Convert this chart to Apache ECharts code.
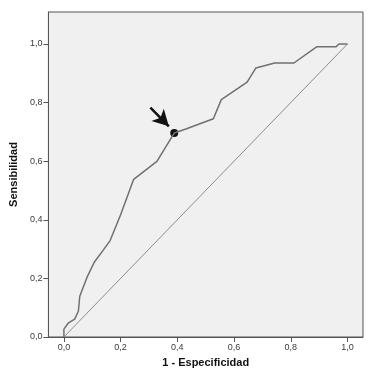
<!DOCTYPE html>
<html>
<head>
<meta charset="utf-8">
<script src="https://cdn.jsdelivr.net/npm/echarts@6/dist/echarts.min.js"></script>
<style>
html,body{margin:0;padding:0;background:#fff;}
#chart{width:375px;height:374px;}
</style>
</head>
<body>
<div id="chart"></div>
<script>
// ROC curve points: [1 - Especificidad, Sensibilidad]
const rocX = [0, 0, 0.015, 0.038, 0.051, 0.056, 0.083, 0.107, 0.140, 0.163, 0.200, 0.246, 0.328, 0.389, 0.430, 0.527, 0.555, 0.646, 0.677, 0.743, 0.811, 0.891, 0.959, 0.970, 0.996, 1.0];
const rocY = [0, 0.027, 0.047, 0.061, 0.088, 0.139, 0.207, 0.255, 0.298, 0.329, 0.417, 0.538, 0.599, 0.696, 0.710, 0.745, 0.810, 0.870, 0.918, 0.935, 0.935, 0.990, 0.990, 1.0, 1.0, 1.0];
const refX = [0, 1];
const refY = [0, 1];
const cutX = [0.389];
const cutY = [0.696];
const arrowFrom = [0.305, 0.783];
const arrowTo = [0.370, 0.719];
const tickValues = [0, 0.2, 0.4, 0.6, 0.8, 1.0];

const fmt = v => v.toFixed(1).replace('.', ',');
const rocData = rocX.map((x, i) => [x, rocY[i]]);
const refData = refX.map((x, i) => [x, refY[i]]);
const cutData = cutX.map((x, i) => [x, cutY[i]]);

const chart = echarts.init(document.getElementById('chart'), null, {renderer: 'canvas'});
const axisCommon = {
  type: 'value',
  splitLine: {show: false},
  axisLine: {show: true, onZero: false, lineStyle: {color: '#555', width: 1}},
  axisTick: {show: true, inside: false, length: 5, lineStyle: {color: '#555'}, customValues: tickValues},
  axisLabel: {color: '#3a3a3a', fontSize: 9, fontFamily: 'Liberation Sans, Arial, sans-serif', formatter: fmt, customValues: tickValues, margin: 6},
  nameTextStyle: {color: '#111', fontSize: 11, fontWeight: 'bold', fontFamily: 'Liberation Sans, Arial, sans-serif'},
  nameLocation: 'middle'
};
chart.setOption({
  animation: false,
  backgroundColor: '#fff',
  grid: {left: 38, top: 12, right: 12, bottom: 37, show: true, backgroundColor: '#f0f0f0', borderColor: '#555', borderWidth: 1},
  xAxis: Object.assign({}, axisCommon, {min: -0.0546, max: 1.0546, name: '1 - Especificidad', nameGap: 20}),
  yAxis: Object.assign({}, axisCommon, {min: 0, max: 1.109, name: 'Sensibilidad', nameGap: 25}),
  series: [
    {type: 'line', data: refData, symbol: 'none', lineStyle: {color: '#8c8c8c', width: 1}, silent: true},
    {type: 'line', data: rocData, symbol: 'none', lineStyle: {color: '#707070', width: 1.5}, silent: true,
      markLine: {silent: true, symbol: ['none', 'arrow'], symbolSize: [13, 16], label: {show: false},
        lineStyle: {color: '#111', width: 2.5, type: 'solid'},
        emphasis: {disabled: true},
        data: [[{coord: arrowFrom}, {coord: arrowTo}]]}},
    {type: 'scatter', data: cutData, symbol: 'circle', symbolSize: 8, itemStyle: {color: '#111', opacity: 1}, silent: true}
  ]
});
</script>
</body>
</html>
